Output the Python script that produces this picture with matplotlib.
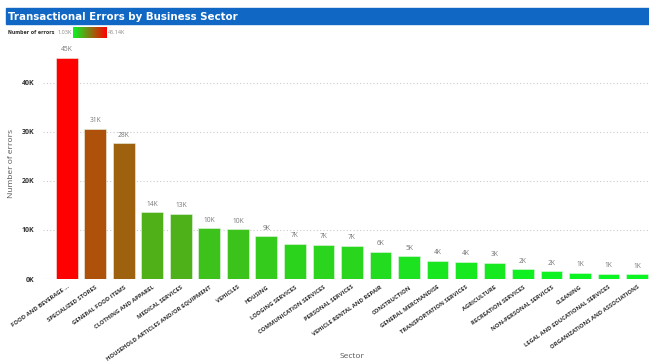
import matplotlib
matplotlib.use('Agg')

import numpy as np
from matplotlib import pyplot as plt
from matplotlib.colors import LinearSegmentedColormap
from matplotlib.patches import Rectangle

sectors = ["FOOD AND BEVERAGE ...", "SPECIALIZED STORES", "GENERAL FOOD ITEMS",
           "CLOTHING AND APPAREL", "MEDICAL SERVICES",
           "HOUSEHOLD ARTICLES AND/OR EQUIPMENT", "VEHICLES", "HOUSING",
           "LODGING SERVICES", "COMMUNICATION SERVICES", "PERSONAL SERVICES",
           "VEHICLE RENTAL AND REPAIR", "CONSTRUCTION", "GENERAL MERCHANDISE",
           "TRANSPORTATION SERVICES", "AGRICULTURE", "RECREATION SERVICES",
           "NON-PERSONAL SERVICES", "CLEANING", "LEGAL AND EDUCATIONAL SERVICES",
           "ORGANIZATIONS AND ASSOCIATIONS"]
errors = [45140, 30600, 27700, 13600, 13300, 10300, 10100, 8700, 7200, 7000,
          6800, 5600, 4600, 3700, 3550, 3350, 2050, 1600, 1250, 1100, 1030]
labels = ["45K", "31K", "28K", "14K", "13K", "10K", "10K", "9K", "7K", "7K",
          "7K", "6K", "5K", "4K", "4K", "3K", "2K", "2K", "1K", "1K", "1K"]
yticks = [0, 10000, 20000, 30000, 40000]
ytick_labels = ["0K", "10K", "20K", "30K", "40K"]

W, H = 649, 362
fig = plt.figure(figsize=(W / 100, H / 100), dpi=100)
plt.rcParams['font.family'] = ['Open Sans', 'DejaVu Sans']

# green -> red gradient like the legend
cmap = LinearSegmentedColormap.from_list("gr", ["#0af522", "#ff0000"])
vmin, vmax = min(errors), max(errors)
colors = [cmap((v - vmin) / (vmax - vmin)) for v in errors]

# title bar
fig.patches.append(Rectangle((6 / W, 1 - 24 / H), 1 - 6 / W, 16 / H,
                             transform=fig.transFigure, color="#1168c4", zorder=0))
fig.text(8 / W, 1 - 16.5 / H, "Transactional Errors by Business Sector",
         color="white", fontsize=8.2, fontweight="bold", va="center",
         family="DejaVu Sans", fontstretch="condensed")

# legend
fig.text(8 / W, 1 - 33 / H, "Number of errors", fontsize=3.8, fontweight="bold",
         color="#333333", va="center", family="DejaVu Sans", fontstretch="condensed")
fig.text(71.5 / W, 1 - 33 / H, "1.03K", fontsize=4.0, color="#888888", va="center",
         ha="right")
fig.text(108 / W, 1 - 33 / H, "45.14K", fontsize=4.0, color="#888888", va="center")
gax = fig.add_axes([73 / W, 1 - 38 / H, 33 / W, 11 / H])
gax.imshow(np.linspace(0, 1, 100)[None, :], aspect="auto", cmap=cmap)
gax.set_axis_off()

# main axes
left, right, bottom, top = 43, 649, 279, 47
ax = fig.add_axes([left / W, 1 - bottom / H, (right - left) / W, (bottom - top) / H])
x = np.arange(len(sectors))
ax.bar(x, errors, width=0.77, color=colors, edgecolor="#e8f5e8", linewidth=0.4,
       zorder=3)
for xi, v, lab in zip(x, errors, labels):
    ax.text(xi, v + 900, lab, ha="center", va="bottom", fontsize=4.8, color="#777777")

ax.set_xlim(-0.84, 20.42)
ax.set_ylim(0, 47300)
ax.set_yticks(yticks)
ax.set_yticklabels(ytick_labels, fontsize=5, fontweight="bold", color="#333333")
ax.set_xticks(x)
ax.set_xticklabels(sectors, rotation=35, ha="right", rotation_mode="anchor",
                   fontsize=4.2, fontweight="bold", color="#333333")
ax.tick_params(axis="y", length=0, pad=6)
ax.tick_params(axis="x", length=0, pad=4)
ax.grid(axis="y", linestyle=(0, (1, 2)), color="#cccccc", linewidth=0.8, zorder=0)
ax.axhline(0, linestyle=(0, (1, 2)), color="#cccccc", linewidth=0.8, zorder=0)
for s in ax.spines.values():
    s.set_visible(False)

ax.set_ylabel("Number of errors", fontsize=6, color="#555555", labelpad=5)
fig.text(352 / W, 1 - 357 / H, "Sector", fontsize=6, color="#555555",
         ha="center", va="center")

plt.savefig("out.png", dpi=100)
